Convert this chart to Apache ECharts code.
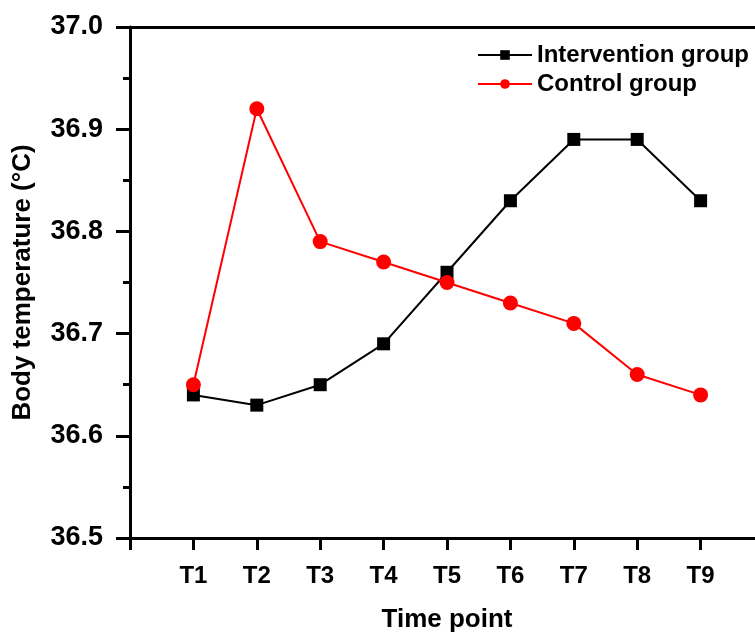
<!DOCTYPE html>
<html>
<head>
<meta charset="utf-8">
<script src="https://cdn.jsdelivr.net/npm/echarts@6/dist/echarts.min.js"></script>
<style>
  html, body { margin: 0; padding: 0; background: #fff; }
  #chart { width: 755px; height: 634px; }
</style>
</head>
<body>
<div id="chart"></div>
<script>
/* 数据：时间点与两组体温 */
var timePoints = ['T1', 'T2', 'T3', 'T4', 'T5', 'T6', 'T7', 'T8', 'T9'];
var intervention = [36.64, 36.63, 36.65, 36.69, 36.76, 36.83, 36.89, 36.89, 36.83];
var control = [36.65, 36.92, 36.79, 36.77, 36.75, 36.73, 36.71, 36.66, 36.64];
var yTicks = ['36.5', '36.6', '36.7', '36.8', '36.9', '37.0'];

/* 类目轴：前后各留一个空位，使原点与 T1 之间有一格 */
var categories = [''].concat(timePoints).concat(['']);

var font = 'Liberation Sans, Arial, sans-serif';

function pairs(values) {
    var out = [];
    for (var i = 0; i < timePoints.length; i++) {
        out.push([timePoints[i], values[i]]);
    }
    return out;
}

var myChart = echarts.init(document.getElementById('chart'));
var option = {
    animation: false,
    backgroundColor: '#fff',
    legend: {
        orient: 'vertical',
        left: 472,
        top: 38,
        itemWidth: 54,
        itemHeight: 12,
        itemGap: 5,
        textStyle: { fontFamily: font, fontWeight: 'bold', fontSize: 24, color: '#000' },
        data: ['Intervention group', 'Control group']
    },
    grid: { left: 130, width: 634, top: 27, bottom: 96, containLabel: false, outerBoundsMode: 'none' },
    xAxis: [
        {
            type: 'category',
            data: categories,
            boundaryGap: false,
            name: 'Time point',
            nameLocation: 'middle',
            nameGap: 69,
            nameTextStyle: { fontFamily: font, fontWeight: 'bold', fontSize: 26, color: '#000' },
            axisLine: { lineStyle: { color: '#000', width: 3 } },
            axisTick: { show: true, inside: false, length: 12, lineStyle: { width: 3, color: '#000' } },
            axisLabel: { margin: 26, fontFamily: font, fontWeight: 'bold', fontSize: 24, color: '#000', interval: 0 },
            splitLine: { show: false }
        },
        {
            type: 'category',
            data: categories,
            boundaryGap: false,
            position: 'top',
            axisLine: { lineStyle: { color: '#000', width: 3 } },
            axisTick: { show: false },
            axisLabel: { show: false },
            splitLine: { show: false }
        }
    ],
    yAxis: {
        type: 'value',
        min: 36.5,
        max: 37.0,
        interval: 0.1,
        name: 'Body temperature (°C)',
        nameLocation: 'middle',
        nameGap: 94,
        nameTextStyle: { fontFamily: font, fontWeight: 'bold', fontSize: 26, color: '#000' },
        axisLine: { show: true, lineStyle: { color: '#000', width: 3 } },
        axisTick: { show: true, inside: false, length: 14, lineStyle: { width: 3, color: '#000' } },
        minorTick: { show: true, splitNumber: 2, length: 7, lineStyle: { width: 3, color: '#000' } },
        axisLabel: {
            margin: 27, fontFamily: font, fontWeight: 'bold', fontSize: 27, color: '#000',
            formatter: function (v) {
                var s = v.toFixed(1);
                return yTicks.indexOf(s) >= 0 ? s : '';
            }
        },
        splitLine: { show: false },
        minorSplitLine: { show: false }
    },
    series: [
        {
            name: 'Intervention group',
            type: 'line',
            data: pairs(intervention),
            symbol: 'rect',
            symbolSize: 13,
            color: '#000',
            lineStyle: { color: '#000', width: 2 },
            itemStyle: { color: '#000' }
        },
        {
            name: 'Control group',
            type: 'line',
            data: pairs(control),
            symbol: 'circle',
            symbolSize: 15,
            color: '#ff0000',
            lineStyle: { color: '#ff0000', width: 2 },
            itemStyle: { color: '#ff0000' }
        }
    ]
};
myChart.setOption(option);
</script>
</body>
</html>
